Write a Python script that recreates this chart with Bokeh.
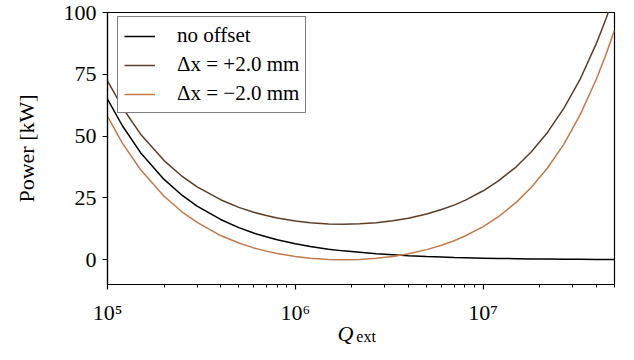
from bokeh.plotting import figure
from bokeh.models import (FixedTicker, Legend, LegendItem, LogAxis, Range1d)
from bokeh.embed import file_html
from bokeh.resources import INLINE

# Data
q_ext = [1.0e5, 1.2e5, 1.5e5, 2.0e5, 2.5e5, 3.0e5, 4.0e5, 5.0e5, 6.0e5, 7.0e5, 8.0e5,
         1.0e6, 1.2e6, 1.5e6, 1.8e6, 2.2e6, 2.7e6, 3.3e6, 4.0e6, 5.0e6, 6.0e6, 7.0e6, 8.0e6,
         1.0e7, 1.2e7, 1.5e7, 1.8e7, 2.2e7, 2.7e7, 3.3e7, 4.0e7, 4.5e7, 5.0e7]
p_no_offset = [65.0, 54.2, 43.3, 32.5, 26.0, 21.7, 16.3, 13.0, 10.8, 9.3, 8.1,
               6.5, 5.4, 4.3, 3.6, 3.0, 2.4, 2.0, 1.6, 1.3, 1.1, 0.9, 0.8,
               0.65, 0.54, 0.43, 0.36, 0.30, 0.24, 0.20, 0.16, 0.14, 0.13]
p_plus = [72.4, 61.6, 50.8, 40.1, 33.7, 29.5, 24.3, 21.2, 19.2, 17.9, 16.9,
          15.7, 15.0, 14.5, 14.4, 14.6, 15.0, 15.8, 16.8, 18.5, 20.3, 22.1, 24.0,
          27.9, 31.8, 37.6, 43.6, 51.5, 61.5, 73.4, 87.4, 97.4, 107.3]
p_minus = [58.0, 47.2, 36.4, 25.7, 19.3, 15.1, 9.8, 6.8, 4.8, 3.5, 2.5,
           1.3, 0.6, 0.12, 0.0, 0.14, 0.6, 1.36, 2.4, 4.1, 5.9, 7.7, 9.6,
           13.4, 17.3, 23.2, 29.2, 37.1, 47.0, 59.0, 73.0, 82.9, 92.9]
series_labels = ["no offset", "\u0394x = +2.0 mm", "\u0394x = \u22122.0 mm"]
series_colors = ["#000000", "#5e3c26", "#c27a4c"]
x_major = [1e5, 1e6, 1e7]
x_major_labels = ["10\u2075", "10\u2076", "10\u2077"]
y_ticks = [0, 25, 50, 75, 100]
x_title_main = "Q"
x_title_sub = "ext"

FONT = "Liberation Serif"

p = figure(width=634, height=360, x_axis_type="log",
           x_range=Range1d(1e5, 5e7), y_range=Range1d(-10, 100),
           output_backend="svg", toolbar_location=None,
           min_border_left=107, min_border_right=20, min_border_top=12, min_border_bottom=76)
p.grid.visible = False
p.outline_line_color = "black"
p.outline_line_width = 1.2
p.background_fill_color = "white"
p.border_fill_color = "white"

renderers = []
for ys, c in zip([p_no_offset, p_plus, p_minus], series_colors):
    r = p.line(q_ext, ys, line_color=c, line_width=1.5)
    renderers.append(r)

minor = []
for d in [1e5, 1e6, 1e7]:
    for k in range(2, 10):
        v = k * d
        if v <= 5e7:
            minor.append(v)

xa = p.xaxis[0]
xa.ticker = FixedTicker(ticks=x_major, minor_ticks=minor)
xa.major_label_overrides = {t: l for t, l in zip(x_major, x_major_labels)}
ya = p.yaxis[0]
ya.ticker = FixedTicker(ticks=y_ticks)
for ax in (xa, ya):
    ax.axis_line_color = "black"
    ax.axis_line_width = 1.2
    ax.major_tick_line_color = "black"
    ax.minor_tick_line_color = "black"
    ax.major_tick_line_width = 1.2
    ax.major_tick_out = 5
    ax.major_tick_in = 0
    ax.minor_tick_out = 3
    ax.minor_tick_in = 0
    ax.major_label_text_font = FONT
    ax.major_label_text_font_size = "22px"
    ax.major_label_text_color = "black"
    ax.axis_label_text_font = FONT
    ax.axis_label_text_font_style = "normal"
    ax.axis_label_text_font_size = "22px"
    ax.axis_label_text_color = "black"
ya.minor_tick_line_color = None
ya.axis_label = "Power [kW]"
ya.axis_label_standoff = 22
ya.major_label_standoff = 6
xa.major_label_standoff = 10

# x-axis title "Q_ext" built from two tick-less axes (italic Q, upright subscript)
q_pos = 1.85e6
e_pos = 2.38e6
ax_q = LogAxis(ticker=FixedTicker(ticks=[q_pos], minor_ticks=[]),
               major_label_overrides={q_pos: x_title_main})
ax_e = LogAxis(ticker=FixedTicker(ticks=[e_pos], minor_ticks=[]),
               major_label_overrides={e_pos: x_title_sub})
for ax, size, style, standoff in ((ax_q, "22px", "italic", -7), (ax_e, "16px", "normal", -21)):
    ax.axis_line_color = None
    ax.major_tick_line_color = None
    ax.minor_tick_line_color = None
    ax.major_tick_out = 0
    ax.major_tick_in = 0
    ax.major_label_standoff = standoff
    ax.major_label_text_font = FONT
    ax.major_label_text_font_size = size
    ax.major_label_text_font_style = style
    ax.major_label_text_color = "black"
    p.add_layout(ax, "below")

legend = Legend(items=[LegendItem(label=l, renderers=[r]) for l, r in zip(series_labels, renderers)],
                location=(10, 171))
legend.margin = 0
legend.padding = 6
legend.spacing = 4
legend.label_height = 20
legend.glyph_width = 31
legend.glyph_height = 20
legend.label_standoff = 22
legend.label_text_font = FONT
legend.label_text_font_size = "21px"
legend.label_text_color = "black"
legend.border_line_color = "black"
legend.border_line_width = 1.5
legend.background_fill_color = "white"
legend.background_fill_alpha = 1.0
p.add_layout(legend)

open("out.html", "w").write(file_html(p, INLINE))
